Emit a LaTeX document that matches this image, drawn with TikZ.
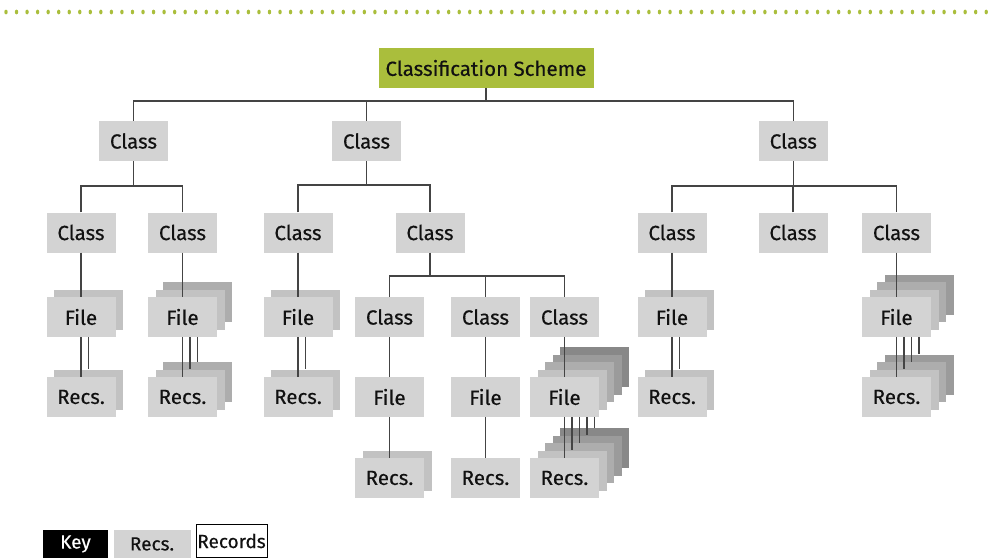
\documentclass[tikz,border=0pt]{standalone}
\usepackage{fontspec}
\setmainfont{Fira Sans}[UprightFeatures={FakeBold=0.35}]
\definecolor{grn}{HTML}{AABE3C}
\definecolor{sh0}{HTML}{D3D3D3}
\definecolor{sh1}{HTML}{C2C2C2}
\definecolor{sh2}{HTML}{ADADAD}
\definecolor{sh3}{HTML}{9B9B9B}
\definecolor{sh4}{HTML}{888888}
\definecolor{ln}{HTML}{444444}
\definecolor{txt}{HTML}{111111}
\tikzset{
  box/.style={fill=sh0, minimum width=69pt, minimum height=40pt, inner sep=0pt,
    font=\fontsize{20.5}{23}\selectfont, text=txt},
  sheet/.style={box},
  conn/.style={draw=ln, line width=1.2pt},
  keybox/.style={minimum height=28pt, inner sep=0pt, font=\fontsize{19}{21}\selectfont},
}
\newcommand\pairstack[5]{%
  \pgfmathtruncatemacro\ptop{#5-1}%
  \foreach \i in {\ptop,...,0}{%
    \node[sheet, fill=sh\i] (#1f\i) at ({#2+7.5*\i},{#3-7.5*\i}) {\ifnum\i=0 File\fi};
    \node[sheet, fill=sh\i] (#1r\i) at ({#2+7.5*\i},{#4-7.5*\i}) {\ifnum\i=0 Recs.\fi};
    \draw[conn] (#1f\i.south) -- (#1r\i.north);
  }%
}
\begin{document}
\begin{tikzpicture}[x=1pt, y=-1pt]
\useasboundingbox (0,0) rectangle (993,558);
% dotted rule
\foreach \k in {0,...,93}
  \fill[grn] ({6+10.54*\k},12) ellipse [x radius=1.7pt, y radius=2.4pt];

% top
\node[box, fill=grn, minimum width=215pt] (scheme) at (486,68) {Classification Scheme};
% row 1
\node[box] (k1) at (133.5,141) {Class};
\node[box] (k2) at (366.5,141) {Class};
\node[box] (k3) at (793.3,141) {Class};
% row 2
\node[box] (c1) at (81,232.5) {Class};
\node[box] (c2) at (182.5,232.5) {Class};
\node[box] (c3) at (298,232.5) {Class};
\node[box] (cm) at (430,232.5) {Class};
\node[box] (c7) at (672,232.5) {Class};
\node[box] (c8) at (793,232.5) {Class};
\node[box] (c9) at (896.5,232.5) {Class};
% row 3 classes
\node[box] (c4) at (389.5,317) {Class};
\node[box] (c5) at (485.5,317) {Class};
\node[box] (c6) at (564.5,317) {Class};

% stacks
\pairstack{s1}{81}{317}{397}{2}
\pairstack{s2}{182.5}{317}{397}{3}
\pairstack{s3}{298}{317}{397}{2}
\node[sheet, fill=sh1] (s4r1) at (397,470.5) {};
\node[sheet] (s4f0) at (389.5,397) {File};
\node[sheet] (s4r0) at (389.5,478) {Recs.};
\draw[conn] (s4f0.south) -- (s4r0.north);
\pairstack{s5}{485.5}{397}{478}{1}
\pairstack{s6}{564.5}{397}{478}{5}
\pairstack{s7}{672}{317}{397}{2}
\pairstack{s9}{896.5}{317}{397}{4}

% connectors
\coordinate (b0) at (486,101);
\draw[conn] (scheme.south) -- (b0);
\draw[conn] (k1.north) |- (b0);
\draw[conn] (k2.north) |- (b0);
\draw[conn] (k3.north) |- (b0);
\coordinate (b1) at (133.5,186);
\draw[conn] (k1.south) -- (b1);
\draw[conn] (c1.north) |- (b1);
\draw[conn] (c2.north) |- (b1);
\coordinate (b2) at (366.5,185);
\draw[conn] (k2.south) -- (b2);
\draw[conn] (c3.north) |- (b2);
\draw[conn] (cm.north) |- (b2);
\coordinate (bm) at (430,276);
\draw[conn] (cm.south) -- (bm);
\draw[conn] (c4.north) |- (bm);
\draw[conn] (c5.north) |- (bm);
\draw[conn] (c6.north) |- (bm);
\coordinate (b3) at (793.3,186);
\draw[conn] (k3.south) -- (b3);
\draw[conn] (c7.north) |- (b3);
\draw[conn] (c8.north) |- (b3);
\draw[conn] (c9.north) |- (b3);
% stems class -> file
\draw[conn] (c1.south) -- (s1f0.north);
\draw[conn] (c2.south) -- (s2f0.north);
\draw[conn] (c3.south) -- (s3f0.north);
\draw[conn] (c4.south) -- (s4f0.north);
\draw[conn] (c5.south) -- (s5f0.north);
\draw[conn] (c6.south) -- (s6f0.north);
\draw[conn] (c7.south) -- (s7f0.north);
\draw[conn] (c9.south) -- (s9f0.north);

% key
\node[keybox, fill=black, text=white, minimum width=65pt] (key) at (75.5,544) {Key};
\node[keybox, fill=sh0, text=txt, minimum width=77pt] (keyrecs) at (152,544) {Recs.};
\node[keybox, draw=black, fill=white, text=txt, line width=0.8pt, minimum width=71pt, minimum height=33pt] (keyrec) at (231.5,541) {Records};
\end{tikzpicture}
\end{document}
